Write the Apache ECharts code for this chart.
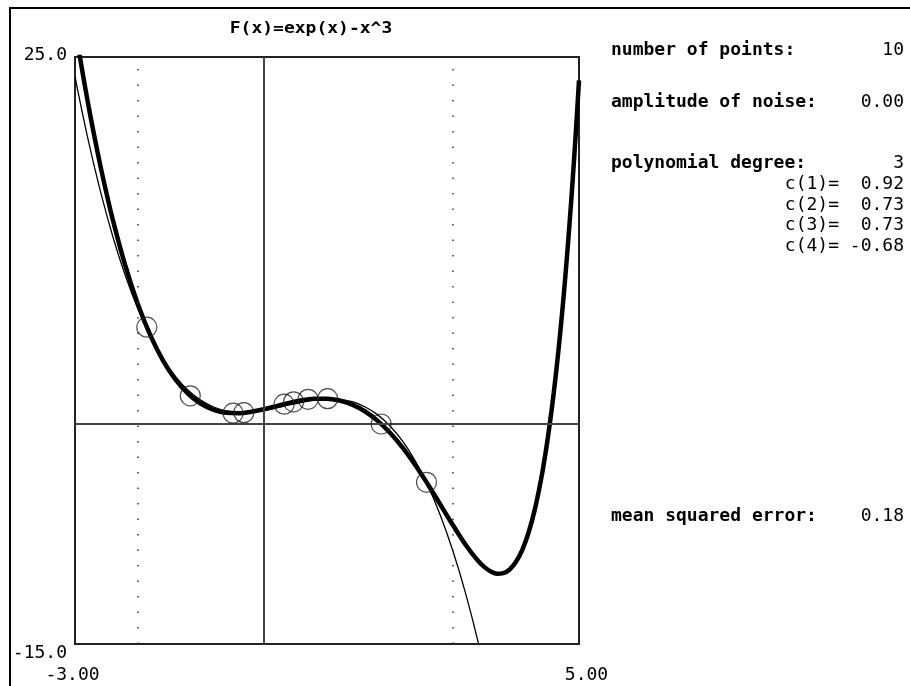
<!DOCTYPE html>
<html>
<head>
<meta charset="utf-8">
<script src="https://cdn.jsdelivr.net/npm/echarts@6/dist/echarts.min.js"></script>
<style>html,body{margin:0;padding:0;background:#fff}#c{width:910px;height:686px}</style>
</head>
<body>
<div id="c"></div>
<script>
// Title
const chartTitle = 'F(x)=exp(x)-x^3';
// Axis ranges & tick labels
const xRange = [-3, 5];
const yRange = [-15, 25];
const xTickValues = [-3, 5];
const xTickLabels = ['-3.00', '5.00'];
const yTickValues = [-15, 25];
const yTickLabels = ['-15.0', '25.0'];
const dottedX = [-2, 3];
// True function F(x) (thick curve), sampled
const thickX = [-3.0,-2.9,-2.8,-2.7,-2.6,-2.5,-2.4,-2.2,-2.0,-1.8,-1.6,-1.4,-1.2,-1.0,-0.8,-0.6,-0.4,-0.2,0.0,0.2,0.4,0.6,0.8,1.0,1.2,1.4,1.6,1.8,2.0,2.2,2.4,2.6,2.8,2.9,3.0,3.1,3.2,3.3,3.4,3.5,3.6,3.7,3.8,3.9,4.0,4.1,4.2,4.3,4.4,4.45,4.5,4.55,4.6,4.65,4.7,4.75,4.8,4.85,4.9,4.95,5.0];
const thickY = [27.05,24.44,22.01,19.75,17.65,15.71,13.91,10.76,8.14,6.00,4.30,2.99,2.03,1.37,0.96,0.76,0.73,0.83,1.00,1.21,1.43,1.61,1.71,1.72,1.59,1.31,0.86,0.22,-0.61,-1.62,-2.80,-4.11,-5.51,-6.22,-6.91,-7.59,-8.24,-8.82,-9.34,-9.76,-10.06,-10.21,-10.17,-9.92,-9.40,-8.58,-7.40,-5.81,-3.73,-2.49,-1.11,0.44,2.15,4.04,6.12,8.41,10.92,13.66,16.64,19.89,23.41];
// Fitted polynomial (thin curve), sampled
const thinX = [-3.0,-2.8,-2.6,-2.4,-2.2,-2.0,-1.8,-1.6,-1.4,-1.2,-1.0,-0.8,-0.6,-0.4,-0.2,0.0,0.2,0.4,0.6,0.8,1.0,1.2,1.4,1.6,1.8,2.0,2.2,2.4,2.6,2.8,3.0,3.2,3.4,3.6];
const thinY = [23.66,19.53,15.91,12.77,10.09,7.82,5.94,4.41,3.20,2.27,1.60,1.15,0.89,0.79,0.81,0.92,1.09,1.29,1.47,1.62,1.70,1.67,1.51,1.17,0.63,-0.14,-1.18,-2.52,-4.20,-6.24,-8.68,-11.55,-14.89,-18.72];
// Data points (circles)
const pointX = [-1.86,-1.17,-0.49,-0.32,0.32,0.47,0.70,1.01,1.86,2.58];
const pointY = [6.59,1.91,0.73,0.76,1.34,1.50,1.67,1.72,-0.01,-3.98];
// Info panel
const infoLabels = ['number of points:', 'amplitude of noise:', 'polynomial degree:', '', '', '', '', 'mean squared error:'];
const infoValues = ['10', '0.00', '3', 'c(1)=  0.92', 'c(2)=  0.73', 'c(3)=  0.73', 'c(4)= -0.68', '0.18'];

const FONT = 'DejaVu Sans Mono';
const zip = (a, b) => a.map((v, i) => [v, b[i]]);

const infoY = [50, 102, 163, 184, 205, 225, 246, 516];
const infoGraphics = [];
infoLabels.forEach((t, i) => {
  if (t) infoGraphics.push({type: 'text', x: 611, y: infoY[i], style: {text: t, fontFamily: FONT, fontSize: 18, fontWeight: 'bold', fill: '#000', align: 'left', verticalAlign: 'middle'}});
  infoGraphics.push({type: 'text', x: 904, y: infoY[i], style: {text: infoValues[i], fontFamily: FONT, fontSize: 18, fill: '#000', align: 'right', verticalAlign: 'middle'}});
});

const chart = echarts.init(document.getElementById('c'), null, {renderer: 'canvas'});
chart.setOption({
  backgroundColor: '#fff',
  animation: false,
  grid: {left: 75, top: 57, right: 331, bottom: 42, show: true, borderColor: '#222', borderWidth: 2, backgroundColor: 'transparent', containLabel: false, outerBoundsMode: 'none'},
  xAxis: {
    type: 'value', min: xRange[0], max: xRange[1],
    axisLine: {show: false}, axisTick: {show: false}, splitLine: {show: false},
    axisLabel: {
      customValues: xTickValues, margin: 22, color: '#000', fontFamily: FONT, fontSize: 18,
      formatter: v => (v === xTickValues[0] ? '{a|' + xTickLabels[0] + '}' : '{b|' + xTickLabels[1] + '}'),
      rich: {a: {fontFamily: FONT, fontSize: 18, color: '#000', padding: [0, 5, 0, 0]}, b: {fontFamily: FONT, fontSize: 18, color: '#000', padding: [0, 0, 0, 15]}}
    }
  },
  yAxis: {
    type: 'value', min: yRange[0], max: yRange[1],
    axisLine: {show: false}, axisTick: {show: false}, splitLine: {show: false},
    axisLabel: {
      customValues: yTickValues, margin: 8, color: '#000', fontFamily: FONT, fontSize: 18,
      formatter: v => (v === yTickValues[0] ? '{b|' + yTickLabels[0] + '}' : '{t|' + yTickLabels[1] + '}'),
      rich: {t: {fontFamily: FONT, fontSize: 18, color: '#000', padding: [0, 0, 4, 0]}, b: {fontFamily: FONT, fontSize: 18, color: '#000', padding: [18, 0, 0, 0]}}
    }
  },
  graphic: [
    {type: 'polyline', shape: {points: [[10, 686], [10, 8], [910, 8]]}, style: {stroke: '#000', lineWidth: 2, fill: null}},
    {type: 'text', x: 311, y: 29, scaleY: 0.85, style: {text: chartTitle, fontFamily: FONT, fontSize: 18, fontWeight: 'bold', fill: '#000', align: 'center', verticalAlign: 'middle'}}
  ].concat(infoGraphics),
  series: [
    {
      type: 'line', name: 'guides', data: [], silent: true,
      markLine: {
        silent: true, symbol: 'none', label: {show: false},
        data: [
          {xAxis: 0, lineStyle: {color: '#444', width: 2, type: 'solid'}},
          {yAxis: 0, lineStyle: {color: '#444', width: 2, type: 'solid'}},
          {xAxis: dottedX[0], lineStyle: {color: '#333', width: 1.5, type: [1.5, 14]}},
          {xAxis: dottedX[1], lineStyle: {color: '#333', width: 1.5, type: [1.5, 14]}}
        ]
      }
    },
    {type: 'line', name: 'fit', data: zip(thinX, thinY), smooth: 0.4, showSymbol: false, clip: true, lineStyle: {color: '#000', width: 1.3}, z: 3},
    {type: 'line', name: 'F', data: zip(thickX, thickY), smooth: 0.4, showSymbol: false, clip: true, lineStyle: {color: '#000', width: 4.5}, z: 4},
    {type: 'scatter', name: 'points', data: zip(pointX, pointY), symbol: 'circle', symbolSize: 20, itemStyle: {color: 'transparent', borderColor: '#222', borderWidth: 1.2}, z: 5}
  ]
});
</script>
</body>
</html>
